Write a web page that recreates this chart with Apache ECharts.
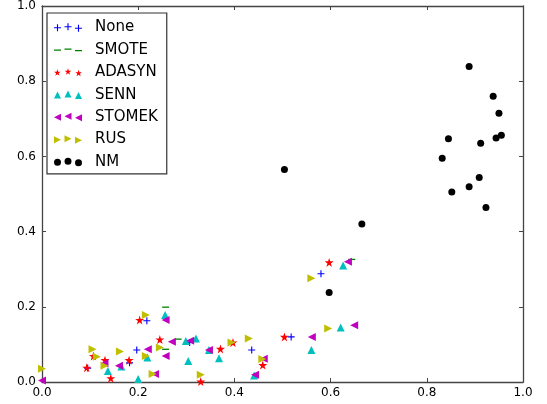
<!DOCTYPE html>
<html>
<head>
<meta charset="utf-8">
<script src="https://cdn.jsdelivr.net/npm/echarts@6/dist/echarts.min.js"></script>
<style>
  html, body { margin: 0; padding: 0; background: #fff; }
  #chart { width: 547px; height: 404px; }
</style>
</head>
<body>
<div id="chart"></div>
<script>
// series names
const names = ['None', 'SMOTE', 'ADASYN', 'SENN', 'STOMEK', 'RUS', 'NM'];

// points, [x, y]
const none = [[0.580, 0.288], [0.518, 0.120], [0.436, 0.085], [0.218, 0.163], [0.197, 0.085],
  [0.307, 0.105], [0.182, 0.051], [0.095, 0.037]];
const smote = [[0.644, 0.326], [0.257, 0.199], [0.283, 0.114], [0.257, 0.087]];
const adasyn = [[0.597, 0.318], [0.504, 0.120], [0.203, 0.165], [0.245, 0.113], [0.107, 0.069],
  [0.131, 0.058], [0.181, 0.058], [0.093, 0.038], [0.143, 0.010], [0.371, 0.088],
  [0.397, 0.105], [0.459, 0.045], [0.330, 0.001]];
const senn = [[0.626, 0.310], [0.621, 0.145], [0.560, 0.085], [0.256, 0.178], [0.299, 0.109],
  [0.320, 0.116], [0.304, 0.056], [0.219, 0.065], [0.165, 0.041], [0.137, 0.029],
  [0.200, 0.008], [0.347, 0.085], [0.368, 0.063], [0.441, 0.017]];
const stomek = [[0.636, 0.320], [0.649, 0.151], [0.561, 0.120], [0.257, 0.165], [0.270, 0.107],
  [0.308, 0.110], [0.220, 0.087], [0.257, 0.069], [0.130, 0.050], [0.160, 0.043],
  [0.235, 0.021], [0.347, 0.085], [0.461, 0.062], [0.443, 0.019], [0.0, 0.004]];
const rus = [[0.560, 0.276], [0.595, 0.142], [0.430, 0.116], [0.216, 0.178], [0.245, 0.092],
  [0.105, 0.087], [0.162, 0.081], [0.114, 0.067], [0.216, 0.069], [0.130, 0.043],
  [0.230, 0.021], [0.330, 0.019], [0.394, 0.105], [0.458, 0.061], [0.0, 0.035]];
const nm = [[0.888, 0.839], [0.938, 0.760], [0.950, 0.715], [0.845, 0.647], [0.912, 0.635],
  [0.944, 0.649], [0.955, 0.656], [0.832, 0.595], [0.909, 0.544], [0.888, 0.519],
  [0.852, 0.505], [0.923, 0.464], [0.504, 0.565], [0.665, 0.420], [0.597, 0.238]];

// marker shapes as svg paths
function plus(cx, cy, s) {
  const h = s / 2, t = s * 0.16, a = h - t / 2;
  return `M${cx - t / 2},${cy - h}h${t}v${a}h${a}v${t}h${-a}v${a}h${-t}v${-a}h${-a}v${-t}h${a}z`;
}
function dash(cx, cy, s) {
  const t = s * 0.18;
  return `M${cx - s / 2},${cy - t / 2}h${s}v${t}h${-s}z`;
}
function star(cx, cy, s) {
  const r = s / 2, ri = r * 0.382;
  let d = '';
  for (let i = 0; i < 10; i++) {
    const ang = -Math.PI / 2 + i * Math.PI / 5;
    const rr = i % 2 ? ri : r;
    d += (i ? 'L' : 'M') + (cx + rr * Math.cos(ang)).toFixed(2) + ',' + (cy + rr * Math.sin(ang)).toFixed(2);
  }
  return d + 'z';
}
function triUp(cx, cy, s) {
  const h = s / 2;
  return `M${cx},${cy - h}L${cx + h},${cy + h}L${cx - h},${cy + h}z`;
}
function triLeft(cx, cy, s) {
  const h = s / 2;
  return `M${cx - h},${cy}L${cx + h},${cy - h}L${cx + h},${cy + h}z`;
}
function triRight(cx, cy, s) {
  const h = s / 2;
  return `M${cx + h},${cy}L${cx - h},${cy - h}L${cx - h},${cy + h}z`;
}
function circle(cx, cy, s) {
  const r = s / 2;
  return `M${cx - r},${cy}A${r},${r} 0 1,0 ${cx + r},${cy}A${r},${r} 0 1,0 ${cx - r},${cy}z`;
}

const shapes = [plus, dash, star, triUp, triLeft, triRight, circle];
const colors = ['#0000ff', '#008000', '#ff0000', '#00bfbf', '#bf00bf', '#bfbf00', '#000000'];
const sizes = [7, [7, 1.3], 9, 8, 8, 8, 7];
const datas = [none, smote, adasyn, senn, stomek, rus, nm];

// legend: three markers per entry like matplotlib
function legendIcon(fn) {
  return 'path://' + fn(3.5, 4.5, 7) + fn(14, 3.5, 7) + fn(24.5, 5, 7);
}

let myChart = echarts.init(document.getElementById('chart'));

const axisCommon = {
  type: 'value',
  min: 0,
  max: 1,
  interval: 0.2,
  splitLine: { show: false },
  axisLine: { onZero: false, lineStyle: { color: '#444', width: 1.3 } },
  axisTick: { inside: true, length: 4, lineStyle: { color: '#444', width: 1 } }
};
const labelStyle = {
  color: '#000',
  fontFamily: 'DejaVu Sans',
  fontSize: 12,
  formatter: v => v.toFixed(1)
};

myChart.setOption({
  animation: false,
  grid: { left: 42, right: 24, top: 6, bottom: 22 },
  xAxis: [
    Object.assign({}, axisCommon, { position: 'bottom', axisLabel: Object.assign({ margin: 5 }, labelStyle) }),
    Object.assign({}, axisCommon, { position: 'top', axisLabel: { show: false } })
  ],
  yAxis: [
    Object.assign({}, axisCommon, { position: 'left', axisLabel: Object.assign({ margin: 6 }, labelStyle) }),
    Object.assign({}, axisCommon, { position: 'right', axisLabel: { show: false } })
  ],
  legend: {
    orient: 'vertical',
    left: 47,
    top: 13,
    padding: [6.5, 9, 4, 7],
    itemGap: 6.4,
    itemWidth: 28,
    itemHeight: 9,
    borderColor: '#333',
    borderWidth: 1.2,
    backgroundColor: '#fff',
    textStyle: { fontFamily: 'DejaVu Sans', fontSize: 15, color: '#000', lineHeight: 16, padding: [0, 0, 0, 8] },
    data: names.map((n, i) => ({ name: n, icon: legendIcon(shapes[i]) }))
  },
  series: names.map((n, i) => ({
    name: n,
    type: 'scatter',
    data: datas[i],
    symbol: 'path://' + shapes[i](0, 0, 10),
    symbolSize: sizes[i],
    itemStyle: { color: colors[i], opacity: 1 },
    emphasis: { disabled: true }
  }))
});
</script>
</body>
</html>
